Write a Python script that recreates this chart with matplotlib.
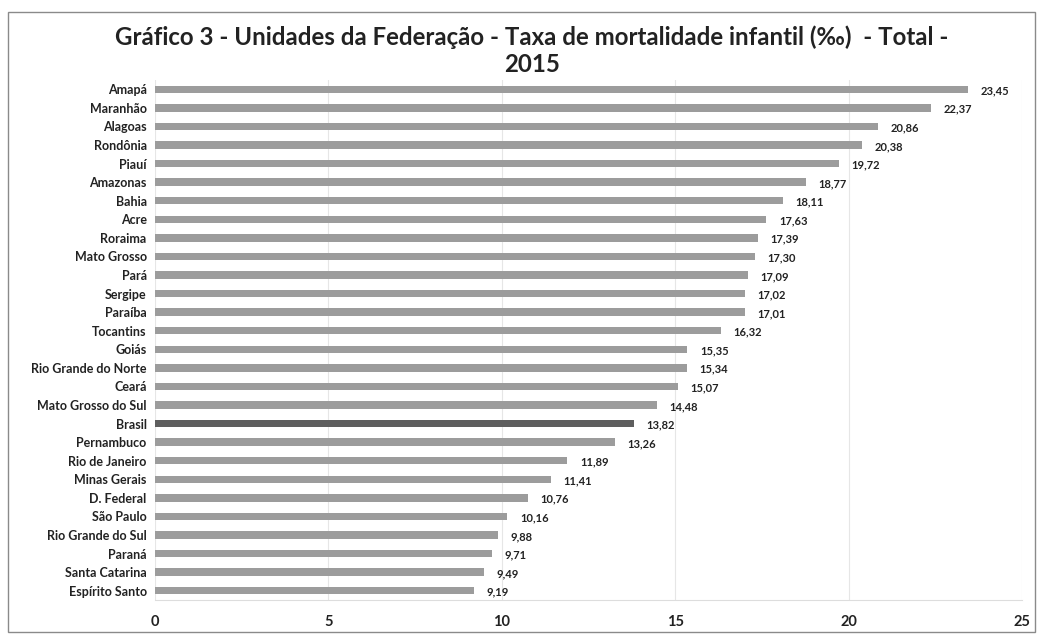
import matplotlib
matplotlib.use("Agg")
import matplotlib.pyplot as plt
from matplotlib.patches import Rectangle

states = ["Amapá", "Maranhão", "Alagoas", "Rondônia", "Piauí", "Amazonas", "Bahia", "Acre",
          "Roraima", "Mato Grosso", "Pará", "Sergipe", "Paraíba", "Tocantins", "Goiás",
          "Rio Grande do Norte", "Ceará", "Mato Grosso do Sul", "Brasil", "Pernambuco",
          "Rio de Janeiro", "Minas Gerais", "D. Federal", "São Paulo", "Rio Grande do Sul",
          "Paraná", "Santa Catarina", "Espírito Santo"]
values = [23.45, 22.37, 20.86, 20.38, 19.72, 18.77, 18.11, 17.63, 17.39, 17.30, 17.09,
          17.02, 17.01, 16.32, 15.35, 15.34, 15.07, 14.48, 13.82, 13.26, 11.89, 11.41,
          10.76, 10.16, 9.88, 9.71, 9.49, 9.19]
xticks = [0, 5, 10, 15, 20, 25]
title = "Gráfico 3 - Unidades da Federação - Taxa de mortalidade infantil (‰)  - Total -\n2015"

plt.rcParams['font.family'] = ['Lato', 'DejaVu Sans']

fig = plt.figure(figsize=(10.41, 6.37), dpi=100)
fig.patches.append(Rectangle((8/1041, 1-632/637), 1027/1041, 620/637, transform=fig.transFigure,
                             fill=False, edgecolor="#8a8a8a", linewidth=1.0))

n = len(states)
ax = fig.add_axes([155/1041, 1-600/637, 867/1041, 520/637])
ypos = list(range(n))
colors = ["#5e5e5e" if s == "Brasil" else "#9c9c9c" for s in states]
ax.barh(ypos, values, height=0.4, color=colors, zorder=3)
ax.set_ylim(n - 0.5, -0.5)
ax.set_xlim(0, 25)
ax.set_yticks(ypos)
ax.set_yticklabels(states, fontsize=9, fontweight="bold", color="#222222")
ax.tick_params(axis="y", length=0, pad=6)
ax.set_xticks(xticks)
ax.set_xticklabels([str(t) for t in xticks], fontsize=10.5, fontweight="bold", color="#222222")
ax.tick_params(axis="x", length=0, pad=11)
for s in ["top", "left", "right"]:
    ax.spines[s].set_visible(False)
ax.spines["bottom"].set_color("#dddddd")
ax.grid(axis="x", color="#e6e6e6", linewidth=0.8, zorder=0)

for y, v in zip(ypos, values):
    ax.annotate(f"{v:.2f}".replace(".", ","), (v, y), xytext=(9, -1), textcoords="offset points",
                va="center", ha="left", fontsize=8, fontweight="bold", color="#222222")

fig.text(532/1041, 1-51/637, title, ha="center", va="center", fontsize=17.3, fontweight="bold",
         color="#222222", linespacing=1.2)

fig.savefig("out.png", dpi=100)
